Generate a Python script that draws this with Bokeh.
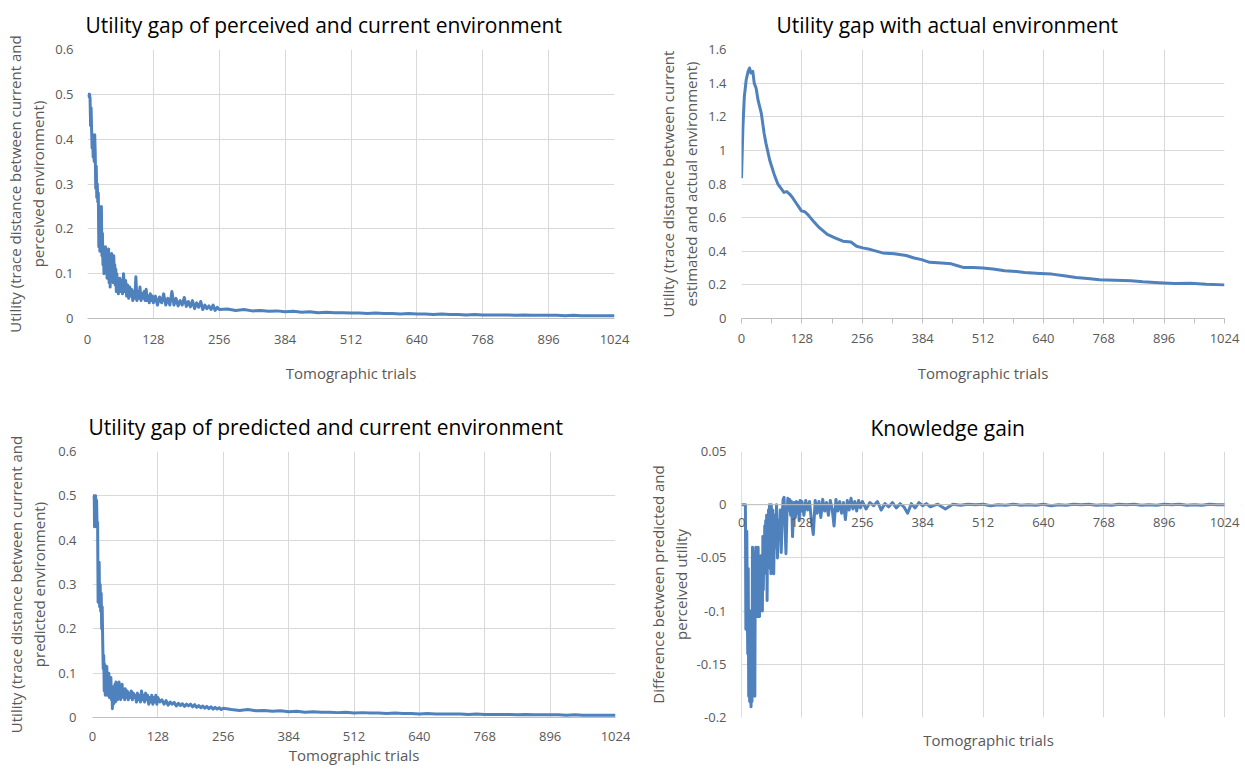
from bokeh.plotting import figure
from bokeh.layouts import column, row
from bokeh.models import (Range1d, FixedTicker, NumeralTickFormatter, Label, Span,
                          BoxAnnotation)
from bokeh.embed import file_html
from bokeh.resources import INLINE

FONT = "Open Sans"
BLUE = "#4f81bd"
GRID = "#d9d9d9"
AXIS = "#bfbfbf"
TXT = "#595959"

X_TICKS = [0, 128, 256, 384, 512, 640, 768, 896, 1024]
X_TICK_LABELS = ["0", "128", "256", "384", "512", "640", "768", "896", "1024"]
X_MINOR = [64, 192, 320, 448, 576, 704, 832, 960]
Y_TICKS_GAP = [0, 0.1, 0.2, 0.3, 0.4, 0.5, 0.6]
Y_TICKS_ACT = [0, 0.2, 0.4, 0.6, 0.8, 1.0, 1.2, 1.4, 1.6]
Y_TICKS_KG = [-0.2, -0.15, -0.1, -0.05, 0, 0.05]

# trial numbers at which the noisy series are sampled
TRIALS_NOISY = (list(range(1, 65)) + list(range(66, 129, 2))
                + list(range(132, 257, 4)) + list(range(272, 1025, 16)))
TRIALS_KG = (list(range(0, 65)) + list(range(66, 129, 2)) + list(range(132, 257, 4))
             + list(range(264, 401, 8)) + list(range(416, 1025, 16)))

# Utility gap of perceived and current environment
PERCEIVED = [
    0.50, 0.50, 0.495, 0.50, 0.49, 0.43, 0.47, 0.42, 0.38, 0.41,
    0.36, 0.40, 0.35, 0.41, 0.37, 0.29, 0.34, 0.27, 0.30, 0.26,
    0.28, 0.16, 0.23, 0.15, 0.21, 0.17, 0.25, 0.14, 0.19, 0.12,
    0.15, 0.10, 0.14, 0.11, 0.16, 0.12, 0.15, 0.09, 0.13, 0.10,
    0.155, 0.08, 0.14, 0.07, 0.13, 0.10, 0.145, 0.09, 0.12, 0.08,
    0.14, 0.10, 0.12, 0.075, 0.11, 0.06, 0.10, 0.07, 0.09, 0.055,
    0.08, 0.065, 0.09, 0.06,
    0.085, 0.055, 0.10, 0.06, 0.085, 0.05, 0.075, 0.045, 0.07, 0.05,
    0.065, 0.04, 0.06, 0.045, 0.093, 0.04, 0.06, 0.045, 0.07, 0.04,
    0.055, 0.045, 0.06, 0.04, 0.065, 0.04, 0.05, 0.035, 0.055, 0.04,
    0.05, 0.035,
    0.05, 0.03, 0.048, 0.035, 0.055, 0.03, 0.045, 0.03, 0.06, 0.03,
    0.045, 0.028, 0.04, 0.03, 0.047, 0.027, 0.038, 0.026, 0.04, 0.022,
    0.035, 0.025, 0.038, 0.02, 0.03, 0.022, 0.028, 0.02, 0.03, 0.018,
    0.025, 0.02,
    0.021, 0.018, 0.020, 0.017, 0.018, 0.016, 0.017, 0.015, 0.016, 0.014,
    0.015, 0.013, 0.014, 0.013, 0.013, 0.012,
    0.012, 0.011, 0.012, 0.011, 0.011, 0.010, 0.011, 0.010, 0.010, 0.009,
    0.010, 0.009, 0.009, 0.008, 0.009, 0.008,
    0.008, 0.008, 0.008, 0.007, 0.008, 0.007, 0.007, 0.007, 0.007, 0.006,
    0.007, 0.006, 0.006, 0.006, 0.006, 0.006,
]

# Utility gap of predicted and current environment
PREDICTED = [
    0.50, 0.50, 0.495, 0.43, 0.50, 0.50, 0.45, 0.49, 0.43, 0.44,
    0.26, 0.30, 0.35, 0.25, 0.30, 0.24, 0.28, 0.20, 0.25, 0.17,
    0.11, 0.14, 0.06, 0.12, 0.05, 0.11, 0.07, 0.115, 0.05, 0.09,
    0.06, 0.10, 0.045, 0.085, 0.05, 0.09, 0.04, 0.07, 0.02, 0.06,
    0.03, 0.07, 0.04, 0.075, 0.035, 0.08, 0.045, 0.07, 0.04, 0.06,
    0.045, 0.08, 0.05, 0.065, 0.04, 0.06, 0.045, 0.075, 0.05, 0.065,
    0.045, 0.06, 0.04, 0.065,
    0.045, 0.06, 0.04, 0.055, 0.045, 0.06, 0.04, 0.055, 0.045, 0.05,
    0.035, 0.055, 0.04, 0.05, 0.035, 0.06, 0.04, 0.05, 0.035, 0.055,
    0.04, 0.05, 0.03, 0.045, 0.035, 0.05, 0.03, 0.045, 0.035, 0.05,
    0.03, 0.045,
    0.035, 0.04, 0.03, 0.038, 0.028, 0.035, 0.03, 0.034, 0.026, 0.032,
    0.027, 0.031, 0.025, 0.03, 0.026, 0.03, 0.024, 0.029, 0.023, 0.027,
    0.022, 0.026, 0.021, 0.025, 0.02, 0.024, 0.019, 0.023, 0.019, 0.022,
    0.018, 0.021,
    0.018, 0.016, 0.018, 0.015, 0.016, 0.014, 0.015, 0.013, 0.014, 0.012,
    0.013, 0.012, 0.012, 0.011, 0.012, 0.010,
    0.011, 0.010, 0.010, 0.009, 0.010, 0.009, 0.009, 0.008, 0.009, 0.008,
    0.008, 0.008, 0.008, 0.007, 0.008, 0.007,
    0.007, 0.007, 0.007, 0.006, 0.007, 0.006, 0.006, 0.006, 0.006, 0.005,
    0.006, 0.005, 0.005, 0.005, 0.005, 0.005,
]

# Utility gap with actual environment
ACTUAL_TRIALS = [0, 3, 6, 10, 14, 17, 20, 24, 27, 31,
                 35, 42, 48, 52, 60, 69, 77, 85, 90, 96,
                 102, 108, 115, 121, 127, 134, 140, 146, 152, 165,
                 182, 198, 215, 232, 244, 257, 274, 299, 324, 349,
                 366, 382, 399, 424, 445, 458, 470, 491, 512, 533,
                 558, 583, 600, 633, 658, 684, 709, 734, 759, 792,
                 826, 851, 885, 918, 952, 985, 1024]
ACTUAL = [0.834, 1.14, 1.32, 1.42, 1.47, 1.49, 1.46, 1.47, 1.40, 1.37,
          1.30, 1.22, 1.10, 1.04, 0.94, 0.86, 0.80, 0.77, 0.75, 0.755,
          0.74, 0.72, 0.69, 0.665, 0.64, 0.635, 0.62, 0.60, 0.58, 0.54,
          0.50, 0.48, 0.46, 0.455, 0.43, 0.42, 0.41, 0.39, 0.385, 0.375,
          0.36, 0.35, 0.334, 0.33, 0.325, 0.314, 0.304, 0.304, 0.30, 0.294,
          0.284, 0.28, 0.274, 0.268, 0.264, 0.254, 0.244, 0.238, 0.23, 0.228,
          0.224, 0.218, 0.212, 0.208, 0.21, 0.204, 0.2]

# Knowledge gain
KNOWLEDGE = [
    0, 0, 0, 0, 0, 0, 0, 0, 0,
    -0.117, -0.03, -0.025, -0.10, -0.14, -0.06, -0.18, -0.12, -0.185, -0.10,
    -0.18, -0.19, -0.13, -0.185, -0.04, -0.09, -0.045, -0.17, -0.10, -0.18,
    -0.05, -0.04, -0.07, -0.105, -0.045, -0.10, -0.04, -0.105, -0.06, -0.105,
    -0.05, -0.09, -0.048, -0.085, -0.06, -0.10, -0.03, -0.08, -0.04, -0.065,
    -0.02, -0.06, -0.015, -0.05, -0.01, -0.09, -0.02, -0.06, -0.005, -0.045,
    0.0, -0.05, -0.01, -0.065, 0.0, -0.04,
    -0.005, -0.065, -0.01, -0.04, 0.0, -0.05, -0.015, -0.03, -0.005, -0.045,
    -0.01, 0.005, 0.007, -0.02, -0.046, -0.01, 0.006, -0.005, 0.005, -0.01,
    0.003, -0.03, -0.005, 0.002, -0.012, 0.003, -0.008, 0.002, -0.015, 0.004,
    -0.006, 0.003,
    -0.01, 0.004, -0.005, 0.003, -0.015, -0.028, 0.004, -0.008, 0.003, -0.012,
    0.005, -0.006, 0.002, -0.01, 0.004, -0.004, -0.02, 0.005, -0.006, 0.003,
    -0.008, 0.002, -0.014, 0.004, -0.005, 0.006, -0.004, 0.003, -0.006, 0.004,
    -0.003, 0.003,
    -0.004, 0.002, -0.001, 0.003, -0.005, 0.001, -0.002, 0.002, -0.003, 0.001,
    -0.002, -0.008, 0.001, -0.003, 0.002, -0.001, 0.001, -0.002,
    0.0005, -0.004, 0.0005, -0.0005, 0.0005, 0.0, 0.0005, -0.001, 0.0, -0.0005,
    0.0005, -0.0005, 0.0, -0.0005, 0.0005, -0.001, 0.0, -0.0005, 0.0005, 0.0,
    0.0005, -0.0005, 0.0, -0.0005, 0.0005, 0.0, 0.0005, -0.0005, 0.0, -0.0005,
    0.0005, 0.0, 0.0005, -0.0005, 0.0, -0.0005, 0.0005, 0.0, 0.0,
]

assert len(TRIALS_NOISY) == len(PERCEIVED) == len(PREDICTED), (len(TRIALS_NOISY), len(PERCEIVED), len(PREDICTED))
assert len(TRIALS_KG) == len(KNOWLEDGE), (len(TRIALS_KG), len(KNOWLEDGE))
assert len(ACTUAL_TRIALS) == len(ACTUAL)


def base(width, height, borders, x_range, y_range, title, title_offset, title_standoff):
    l, r, t, b = borders
    p = figure(width=width, height=height, x_range=Range1d(*x_range),
               y_range=Range1d(*y_range), output_backend="svg", toolbar_location=None,
               min_border_left=l, min_border_right=r, min_border_top=t, min_border_bottom=b,
               background_fill_color="white", border_fill_color="white")
    p.outline_line_color = None
    p.title.text = title
    p.title.align = "left"
    p.title.vertical_align = "top"
    p.title.offset = title_offset
    p.title.standoff = title_standoff
    p.title.text_font = FONT
    p.title.text_font_size = "21px"
    p.title.text_font_style = "normal"
    p.title.text_color = "black"
    p.grid.grid_line_color = GRID
    p.grid.grid_line_width = 1
    return p


def style_axis(ax, ticks, label, lab_standoff, axlab_standoff, line_color,
               tick_out=0, minor=None, fmt="0.[00]"):
    ax.ticker = FixedTicker(ticks=ticks, minor_ticks=minor or [])
    ax.formatter = NumeralTickFormatter(format=fmt)
    ax.axis_label = label
    ax.axis_label_text_font = FONT
    ax.axis_label_text_font_size = "15px"
    ax.axis_label_text_font_style = "normal"
    ax.axis_label_text_color = TXT
    ax.axis_label_text_line_height = 1.15
    ax.axis_label_standoff = axlab_standoff
    ax.major_label_text_font = FONT
    ax.major_label_text_font_size = "13px"
    ax.major_label_text_color = TXT
    ax.major_label_standoff = lab_standoff
    ax.axis_line_color = line_color
    ax.major_tick_in = 0
    ax.major_tick_out = tick_out
    ax.minor_tick_in = 0
    ax.minor_tick_out = tick_out if minor else 0
    ax.major_tick_line_color = AXIS
    ax.minor_tick_line_color = AXIS


XLAB = "Tomographic trials"
X_RANGE = (0, 1024)

# --- top left
p1 = base(630, 400, (87, 16, 49, 82), X_RANGE, (0, 0.6),
          "Utility gap of perceived and current environment", -2, 18)
style_axis(p1.xaxis[0], X_TICKS, XLAB, 16, 16, AXIS, fmt="0")
style_axis(p1.yaxis[0], Y_TICKS_GAP,
           "Utility (trace distance between current and\nperceived environment)", 14, 4, None)
p1.line(TRIALS_NOISY, PERCEIVED, line_width=3, line_color=BLUE, line_join="round")

# --- top right
p2 = base(615, 400, (111, 21, 49, 82), X_RANGE, (0, 1.6),
          "Utility gap with actual environment", 35, 18)
style_axis(p2.xaxis[0], X_TICKS, XLAB, 10, 17, AXIS, tick_out=5, minor=X_MINOR, fmt="0")
style_axis(p2.yaxis[0], Y_TICKS_ACT,
           "Utility (trace distance between current\nestimated and actual environment)", 15, 4, None)
p2.line(ACTUAL_TRIALS, ACTUAL, line_width=3, line_color=BLUE, line_join="round")

# --- bottom left
p3 = base(630, 371, (92, 15, 51, 53), X_RANGE, (0, 0.6),
          "Utility gap of predicted and current environment", -4, 17)
style_axis(p3.xaxis[0], X_TICKS, XLAB, 14, 1, AXIS, fmt="0")
style_axis(p3.yaxis[0], Y_TICKS_GAP,
           "Utility (trace distance between current and\npredicted environment)", 16, 6, None)
p3.line(TRIALS_NOISY, PREDICTED, line_width=3, line_color=BLUE, line_join="round")

# --- bottom right: horizontal axis crosses at zero, its labels sit under the zero line;
# the frame is a little wider than 0..1024 so that the "0" and "1024" labels are not cut
p4 = base(615, 371, (105, 4, 51, 54), (-13, 1060), (-0.2, 0.05), "Knowledge gain", 135, 16)
style_axis(p4.xaxis[0], [], XLAB, 0, 12, None, fmt="0")
p4.xgrid.ticker = FixedTicker(ticks=X_TICKS)
style_axis(p4.yaxis[0], Y_TICKS_KG,
           "Difference between predicted and\nperceived utility", 9, 3, None)
p4.add_layout(Span(location=0, dimension="width", line_color=AXIS, line_width=1))
p4.add_layout(BoxAnnotation(right=-1, fill_color="white", fill_alpha=1, line_color=None))
p4.add_layout(BoxAnnotation(left=1025, fill_color="white", fill_alpha=1, line_color=None))
p4.line(TRIALS_KG, KNOWLEDGE, line_width=3, line_color=BLUE, line_join="round")
for tx, tt in zip(X_TICKS, X_TICK_LABELS):
    p4.add_layout(Label(x=tx, y=0, text=tt, y_offset=-13, text_align="center",
                        text_baseline="top", text_font=FONT, text_font_size="13px",
                        text_color=TXT))

layout = column(row(p1, p2), row(p3, p4))
open("out.html", "w").write(file_html(layout, INLINE))
